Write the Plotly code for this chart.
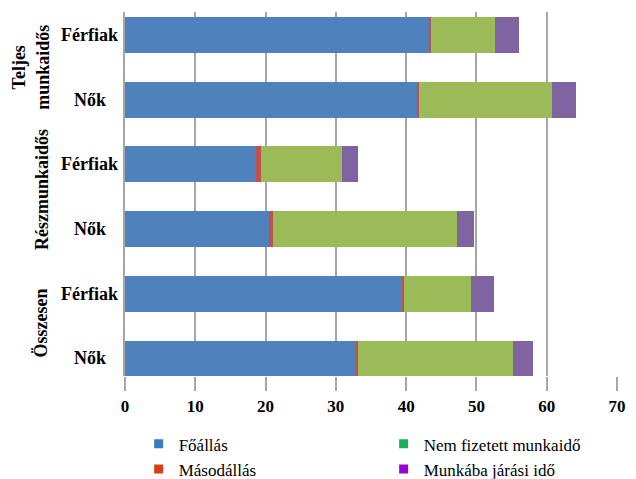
import plotly.graph_objects as go

# ---- data ----
groups = ["Teljes munkaidős", "Teljes munkaidős", "Részmunkaidős", "Részmunkaidős", "Összesen", "Összesen"]
subgroups = ["Férfiak", "Nők", "Férfiak", "Nők", "Férfiak", "Nők"]
foallas = [43.3, 41.6, 18.7, 20.5, 39.5, 32.8]
masodallas = [0.2, 0.2, 0.6, 0.5, 0.2, 0.4]
nem_fizetett = [9.1, 19.0, 11.6, 26.3, 9.5, 22.0]
munkaba = [3.5, 3.4, 2.3, 2.3, 3.3, 2.9]
series_names = ["Főállás", "Másodállás", "Nem fizetett munkaidő", "Munkába járási idő"]
x_ticks = [0, 10, 20, 30, 40, 50, 60, 70]

bar_colors = ["#4F81BD", "#C0504D", "#9BBB59", "#8064A2"]
legend_colors = ["#3A7CC4", "#D5401A", "#17B257", "#9A00CC"]

cats = [g + "|" + s for g, s in zip(groups, subgroups)]
values = [foallas, masodallas, nem_fizetett, munkaba]

fig = go.Figure()
for name, vals, col in zip(series_names, values, bar_colors):
    fig.add_trace(go.Bar(x=vals, y=cats, orientation="h", name=name,
                         marker=dict(color=col, line=dict(width=0)),
                         showlegend=False))

# legend entries (row-major order to get column layout of the original)
legend_order = [0, 2, 1, 3]
for i in legend_order:
    fig.add_trace(go.Scatter(x=[None], y=[None], mode="markers", name=series_names[i],
                             marker=dict(symbol="square", size=9, color=legend_colors[i]),
                             showlegend=True))

SERIF = "Liberation Serif, Times New Roman, DejaVu Serif, serif"

annotations = []
# subgroup labels
for c, s in zip(cats, subgroups):
    annotations.append(dict(x=-0.072, xref="paper", y=c, yref="y", text="<b>%s</b>" % s,
                            showarrow=False, xanchor="center", yanchor="middle",
                            font=dict(family=SERIF, size=18, color="#000000")))
# group labels
uniq = []
for g in groups:
    if g not in uniq:
        uniq.append(g)
group_style = {
    "Teljes munkaidős": dict(text="Teljes<br>munkaidős", x=-0.192, yshift=0),
    "Részmunkaidős": dict(text="Részmunkaidős", x=-0.17, yshift=7),
    "Összesen": dict(text="Összesen", x=-0.17, yshift=3),
}
for g in uniq:
    idx = [i for i, gg in enumerate(groups) if gg == g]
    center = sum(idx) / len(idx)
    st = group_style[g]
    annotations.append(dict(x=st["x"], xref="paper", y=center, yref="y",
                            text="<b>%s</b>" % st["text"], textangle=-90,
                            showarrow=False, xanchor="center", yanchor="middle",
                            yshift=st["yshift"],
                            font=dict(family=SERIF, size=18, color="#000000")))

fig.update_layout(
    width=636, height=479,
    margin=dict(l=125, r=10.5, t=12, b=101, pad=0),
    barmode="stack",
    bargap=0.446,
    plot_bgcolor="white",
    paper_bgcolor="white",
    font=dict(family=SERIF, color="#000000"),
    showlegend=True,
    legend=dict(orientation="h", xref="container", yref="container",
                x=0.218, y=0.11, xanchor="left", yanchor="top",
                entrywidth=200, entrywidthmode="pixels", traceorder="normal",
                font=dict(family=SERIF, size=17, color="#000000"),
                bgcolor="rgba(0,0,0,0)", itemwidth=30, tracegroupgap=0),
    annotations=annotations,
    xaxis=dict(range=[0, 70], tickvals=x_ticks, ticktext=["<b>%d</b>" % v for v in x_ticks],
               showgrid=True, gridcolor="#A6A6A6", gridwidth=1.5,
               zeroline=False, showline=False,
               ticks="outside", ticklen=14, tickwidth=1.5, tickcolor="#A6A6A6",
               tickfont=dict(family=SERIF, size=17, color="#000000")),
    yaxis=dict(categoryorder="array", categoryarray=cats,
               range=[5.277, -0.354], showticklabels=False, ticks="",
               showgrid=False, zeroline=False,
               showline=True, linecolor="#A6A6A6", linewidth=1.5),
)

fig.write_html("out.html")
